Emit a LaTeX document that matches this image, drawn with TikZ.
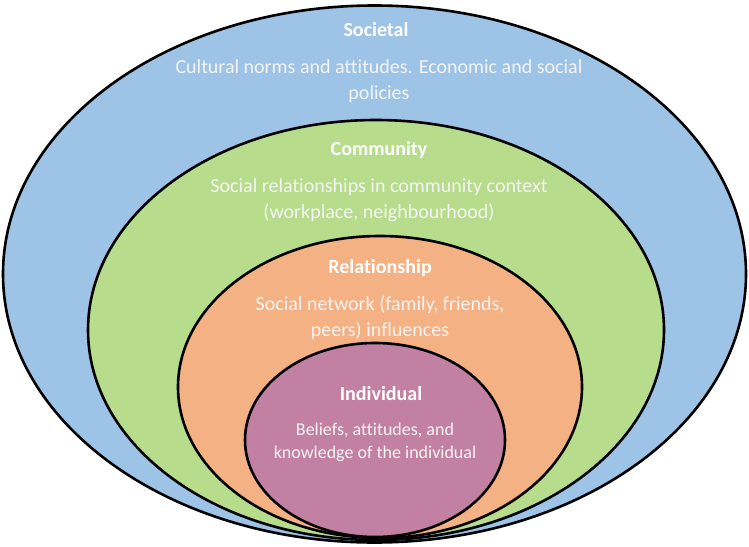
\documentclass[tikz,border=0pt]{standalone}
\usepackage{fontspec}
\setmainfont{Carlito}[Ligatures=NoCommon]
\usetikzlibrary{shapes.geometric}
\definecolor{lvSocietal}{HTML}{9DC3E6}
\definecolor{lvCommunity}{HTML}{B7DD8C}
\definecolor{lvRelation}{HTML}{F4B183}
\definecolor{lvIndividual}{HTML}{C280A3}
\definecolor{lvText}{HTML}{F4F4F4}
\begin{document}
\begin{tikzpicture}[
  x=1pt,y=-1pt,
  ring/.style={ellipse,draw=black,line width=2.6pt,inner sep=0pt},
  head/.style={font=\fontsize{20}{24}\selectfont\bfseries,text=white},
  desc/.style={font=\fontsize{20}{26}\selectfont,text=lvText,align=center},
]
  \useasboundingbox (0,0) rectangle (749,546);

  % nested levels, all touching at the bottom
  \node[ring,fill=lvSocietal,minimum width=743,minimum height=537]   (societal)   at (374.5,274) {};
  \node[ring,fill=lvCommunity,minimum width=576,minimum height=420]  (community)  at (376,330) {};
  \node[ring,fill=lvRelation,minimum width=404,minimum height=302]   (relation)   at (380,387) {};
  \node[ring,fill=lvIndividual,minimum width=260,minimum height=194] (individual) at (375,440) {};

  % labels
  \node[head] (societalT) at (376,30) {Societal};
  \node[desc] (societalD) at (379,81) {Cultural norms and attitudes. Economic and social\\policies};
  \node[head] (communityT) at (379,150) {Community};
  \node[desc] (communityD) at (379,200) {Social relationships in community context\\(workplace, neighbourhood)};
  \node[head] (relationT) at (380,268) {Relationship};
  \node[desc] (relationD) at (380,318) {Social network (family, friends,\\peers) influences};
  \node[head] (individualT) at (381,394) {Individual};
  \node[desc,font=\fontsize{18}{23}\selectfont] (individualD) at (375,442) {Beliefs, attitudes, and\\knowledge of the individual};
\end{tikzpicture}
\end{document}
